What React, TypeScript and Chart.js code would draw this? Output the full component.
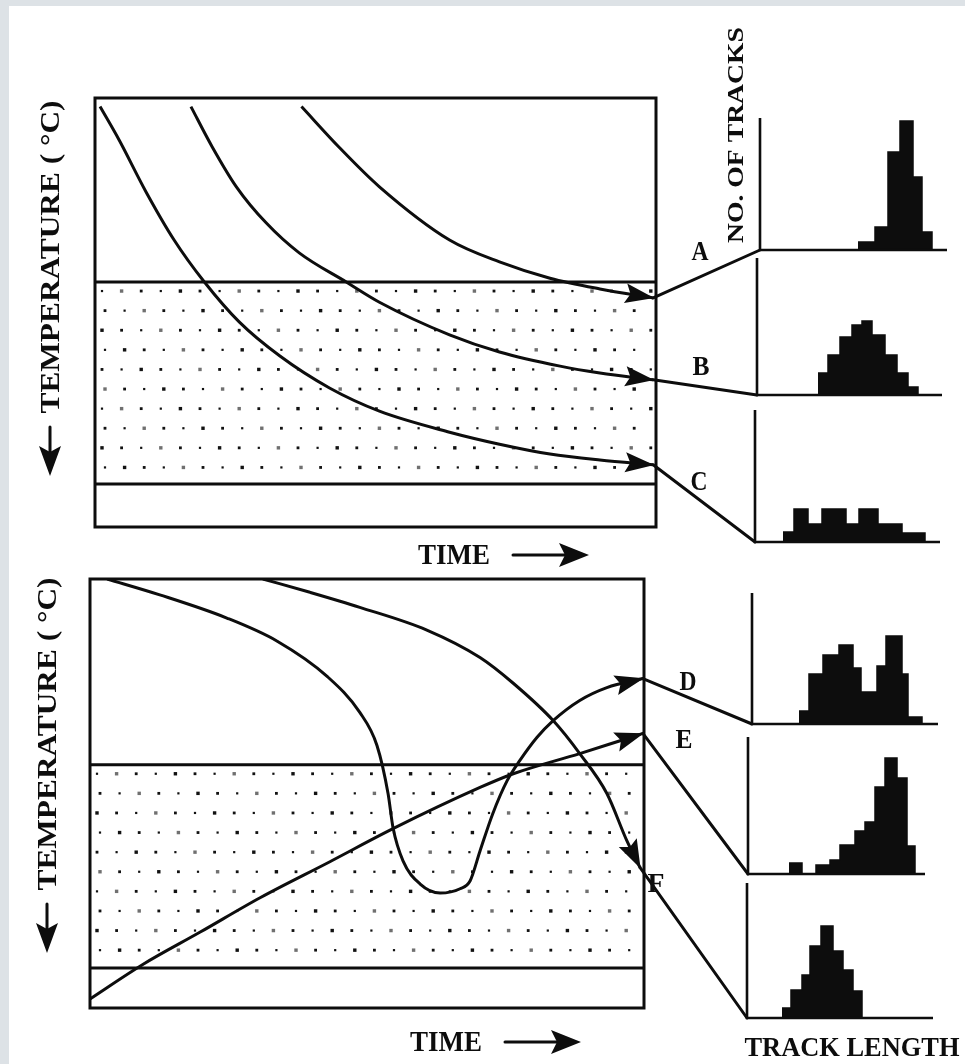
import React, { useEffect, useRef } from "react";
import { Chart, registerables } from "chart.js";

Chart.register(...registerables);

// ---------------- DATA ----------------
// Upper diagram: time (0-100, arbitrary) vs temperature (0 = top, 100 = bottom, arbitrary)
const timeA = [36.8, 43.6, 50.7, 63.2, 72.1, 81.1, 90.0, 99.5];
const tempA = [2.0, 11.6, 20.7, 33.1, 38.2, 42.0, 44.5, 46.6];
const timeB = [17.1, 20.9, 25.2, 30.5, 36.4, 44.8, 50.7, 63.2, 72.1, 82.9, 90.0, 99.5];
const tempB = [2.0, 11.4, 20.7, 29.1, 36.1, 42.9, 47.6, 55.2, 59.2, 62.5, 64.1, 65.7];
const timeC = [0.9, 4.3, 9.1, 14.1, 19.5, 25.7, 32.9, 41.8, 50.7, 63.2, 72.1, 81.1, 90.0, 99.5];
const tempC = [2.0, 9.8, 21.9, 33.1, 42.9, 52.2, 60.1, 67.6, 73.0, 77.9, 80.7, 83.0, 84.4, 85.5];
const pazUpper = [42.9, 90.0];

// Lower diagram
const timeD = [3.1, 12.6, 24.7, 33.8, 42.8, 48.7, 51.8, 53.8, 54.7, 56.5, 59.6, 63.2, 66.8, 68.6, 70.4, 72.7, 75.3, 77.6, 80.7, 83.6, 88.4, 93.3, 99.8];
const tempD = [0, 3.7, 9.1, 14.5, 22.7, 31.1, 38.8, 50.0, 58.0, 65.7, 71.1, 73.2, 72.2, 70.4, 63.4, 54.7, 47.0, 42.3, 36.9, 33.0, 28.3, 25.3, 23.2];
const timeE = [0, 9.6, 19.9, 30.7, 43.3, 54.7, 70.4, 76.4, 88.4, 95.7, 99.8];
const tempE = [97.9, 89.8, 82.3, 74.3, 65.9, 58.2, 48.6, 45.4, 40.7, 37.7, 36.0];
const timeF = [31.2, 39.7, 48.7, 60.8, 70.4, 76.4, 83.6, 88.4, 93.3, 96.9, 99.3];
const tempF = [0, 3.1, 6.6, 11.9, 18.3, 24.3, 33.0, 40.7, 50.0, 61.0, 67.3];
const pazLower = [43.3, 90.7];

// Track-length histograms: bin edges (track length) and counts (arbitrary)
const histA_edges = [9.8, 11.5, 12.8, 14.0, 15.3, 16.2, 17.2];
const histA_counts = [8, 23, 98, 129, 73, 18];
const histB_edges = [6.1, 7.1, 8.3, 9.5, 10.5, 11.5, 12.8, 14.0, 15.1, 16.1];
const histB_counts = [22, 40, 58, 70, 74, 60, 40, 22, 8];
const histC_edges = [2.8, 3.9, 5.3, 6.7, 9.1, 10.4, 12.3, 14.7, 17.0];
const histC_counts = [10, 33, 18, 33, 18, 33, 18, 9];
const histD_edges = [4.7, 5.7, 7.1, 8.7, 10.1, 10.9, 12.5, 13.4, 15.0, 15.6, 17.0];
const histD_counts = [13, 50, 69, 79, 56, 32, 58, 88, 50, 7];
const histE_edges = [4.1, 5.4, 6.8, 8.2, 9.2, 10.7, 11.7, 12.7, 13.7, 14.9, 15.9, 16.7];
const histE_counts = [11, 0, 9, 14, 29, 43, 52, 87, 116, 96, 28];
const histF_edges = [3.5, 4.4, 5.5, 6.3, 7.4, 8.6, 9.6, 10.6, 11.5];
const histF_counts = [10, 28, 43, 72, 92, 67, 48, 27];

const pathLabels = ["A", "B", "C", "D", "E", "F"];

// ---------------- LAYOUT ----------------
const PAGE_W = 965;
const PAGE_H = 1064;
const INK = "#0d0d0d";
const FONT = '"Liberation Serif", "DejaVu Serif", serif';

const upperBox = { cl: 0, ct: 0, cw: 760, ch: 560, left: 95, top: 98, right: 656, bottom: 527 };
const lowerBox = { cl: 0, ct: 560, cw: 752, ch: 504, left: 90, top: 579, right: 644, bottom: 1008 };

// histogram axis origin (page px), axis height, axis length
const histBoxes = [
  { ax: 760, base: 250, h: 132, w: 187 },
  { ax: 757, base: 395, h: 137, w: 185 },
  { ax: 755, base: 542, h: 132, w: 185 },
  { ax: 752, base: 724, h: 131, w: 186 },
  { ax: 748, base: 874, h: 137, w: 177 },
  { ax: 747, base: 1018, h: 135, w: 186 },
];
const HPAD = 12;
const PX_PER_UNIT = 10;

const letterPos = [
  [700, 251], [701, 366], [699, 481], [688, 681], [684, 739], [656, 883],
];

function mainChart(canvas: HTMLCanvasElement, box: any, series: { t: number[]; T: number[] }[], paz: number[]) {
  const datasets = series.map((s) => ({
    data: s.t.map((t, i) => ({ x: t, y: s.T[i] })),
    borderColor: INK,
    borderWidth: 3,
    pointRadius: 0,
    cubicInterpolationMode: "monotone" as const,
    fill: false,
  }));
  const decor = {
    id: "decor",
    beforeDatasetsDraw(chart: any) {
      const { ctx, chartArea: a, scales } = chart;
      const y0 = scales.y.getPixelForValue(paz[0]);
      const y1 = scales.y.getPixelForValue(paz[1]);
      ctx.save();
      ctx.fillStyle = "#111";
      const step = 19.6;
      let r = 0;
      for (let yy = y0 + 9; yy < y1 - 5; yy += step, r++) {
        let c = 0;
        for (let xx = a.left + 7 + (r % 2) * 3; xx < a.right - 4; xx += step, c++) {
          const k = (r * 7 + c * 5) % 6;
          const s = 2.2 + (k % 3) * 0.6;
          ctx.globalAlpha = k === 5 ? 0.6 : 1;
          ctx.fillRect(xx - s / 2, yy - s / 2, s, s);
        }
      }
      ctx.globalAlpha = 1;
      ctx.strokeStyle = INK;
      ctx.lineWidth = 3;
      ctx.beginPath();
      ctx.moveTo(a.left, y0);
      ctx.lineTo(a.right, y0);
      ctx.moveTo(a.left, y1);
      ctx.lineTo(a.right, y1);
      ctx.stroke();
      ctx.restore();
    },
    afterDatasetsDraw(chart: any) {
      const { ctx, chartArea: a } = chart;
      ctx.save();
      ctx.fillStyle = INK;
      chart.data.datasets.forEach((_: any, i: number) => {
        const pts = chart.getDatasetMeta(i).data;
        const last = pts[pts.length - 1];
        let px = last.cp1x;
        let py = last.cp1y;
        if (px == null || (Math.abs(px - last.x) < 0.5 && Math.abs(py - last.y) < 0.5)) {
          px = pts[pts.length - 2].x;
          py = pts[pts.length - 2].y;
        }
        const ang = Math.atan2(last.y - py, last.x - px);
        const L = 28;
        const hw = 10;
        ctx.save();
        ctx.translate(last.x, last.y);
        ctx.rotate(ang);
        ctx.beginPath();
        ctx.moveTo(1, 0);
        ctx.lineTo(-L, -hw);
        ctx.lineTo(-L + 5, 0);
        ctx.lineTo(-L, hw);
        ctx.closePath();
        ctx.fill();
        ctx.restore();
      });
      ctx.strokeStyle = INK;
      ctx.lineWidth = 3;
      ctx.strokeRect(a.left, a.top, a.right - a.left, a.bottom - a.top);
      ctx.restore();
    },
  };
  return new Chart(canvas, {
    type: "line",
    data: { datasets },
    options: {
      animation: false,
      responsive: false,
      devicePixelRatio: 1,
      layout: {
        padding: { left: box.left - box.cl, top: box.top - box.ct, right: box.cl + box.cw - box.right, bottom: box.ct + box.ch - box.bottom },
      },
      scales: {
        x: { type: "linear", min: 0, max: 100, display: false },
        y: { type: "linear", min: 0, max: 100, reverse: true, display: false },
      },
      plugins: { legend: { display: false }, tooltip: { enabled: false } },
    },
    plugins: [decor],
  } as any);
}

function histChart(canvas: HTMLCanvasElement, hb: any, edges: number[], counts: number[]) {
  const axes = {
    id: "axes",
    afterDatasetsDraw(chart: any) {
      const { ctx, chartArea: a } = chart;
      ctx.save();
      ctx.strokeStyle = INK;
      ctx.lineWidth = 2.6;
      ctx.beginPath();
      ctx.moveTo(a.left, a.top);
      ctx.lineTo(a.left, a.bottom);
      ctx.lineTo(a.right, a.bottom);
      ctx.stroke();
      ctx.restore();
    },
  };
  return new Chart(canvas, {
    type: "line",
    data: {
      datasets: [
        {
          data: edges.map((e, i) => ({ x: e, y: i < counts.length ? counts[i] : 0 })),
          stepped: true,
          fill: "origin",
          backgroundColor: INK,
          borderColor: INK,
          borderWidth: 1.5,
          pointRadius: 0,
        },
      ],
    },
    options: {
      animation: false,
      responsive: false,
      devicePixelRatio: 1,
      layout: { padding: HPAD },
      scales: {
        x: { type: "linear", min: 0, max: hb.w / PX_PER_UNIT, display: false },
        y: { type: "linear", min: 0, max: hb.h, display: false },
      },
      plugins: { legend: { display: false }, tooltip: { enabled: false } },
    },
    plugins: [axes],
  } as any);
}

function fitText(ctx: CanvasRenderingContext2D, text: string, cx: number, cy: number, len: number, size: number, rot: number) {
  ctx.save();
  ctx.translate(cx, cy);
  ctx.rotate(rot);
  ctx.font = `bold ${size}px ${FONT}`;
  const w = ctx.measureText(text).width;
  ctx.scale(len / w, 1);
  ctx.textAlign = "center";
  ctx.textBaseline = "alphabetic";
  ctx.fillText(text, 0, size * 0.33);
  ctx.restore();
}

function arrow(ctx: CanvasRenderingContext2D, x0: number, y0: number, x1: number, y1: number, headL: number, headW: number) {
  const ang = Math.atan2(y1 - y0, x1 - x0);
  ctx.save();
  ctx.lineWidth = 3;
  ctx.beginPath();
  ctx.moveTo(x0, y0);
  ctx.lineTo(x1 - Math.cos(ang) * headL * 0.6, y1 - Math.sin(ang) * headL * 0.6);
  ctx.stroke();
  ctx.translate(x1, y1);
  ctx.rotate(ang);
  ctx.beginPath();
  ctx.moveTo(0, 0);
  ctx.lineTo(-headL, -headW);
  ctx.lineTo(-headL * 0.8, 0);
  ctx.lineTo(-headL, headW);
  ctx.closePath();
  ctx.fill();
  ctx.restore();
}

export default function App() {
  const upperRef = useRef<HTMLCanvasElement>(null);
  const lowerRef = useRef<HTMLCanvasElement>(null);
  const overlayRef = useRef<HTMLCanvasElement>(null);
  const histRefs = useRef<(HTMLCanvasElement | null)[]>([]);

  useEffect(() => {
    const charts: Chart[] = [];
    const upper = mainChart(upperRef.current!, upperBox, [
      { t: timeA, T: tempA },
      { t: timeB, T: tempB },
      { t: timeC, T: tempC },
    ], pazUpper);
    const lower = mainChart(lowerRef.current!, lowerBox, [
      { t: timeD, T: tempD },
      { t: timeE, T: tempE },
      { t: timeF, T: tempF },
    ], pazLower);
    charts.push(upper, lower);
    const histData = [
      [histA_edges, histA_counts],
      [histB_edges, histB_counts],
      [histC_edges, histC_counts],
      [histD_edges, histD_counts],
      [histE_edges, histE_counts],
      [histF_edges, histF_counts],
    ];
    const hists = histBoxes.map((hb, i) => histChart(histRefs.current[i]!, hb, histData[i][0], histData[i][1]));
    charts.push(...hists);

    // overlay: connectors and lettering
    const oc = overlayRef.current!;
    const ctx = oc.getContext("2d")!;
    ctx.clearRect(0, 0, PAGE_W, PAGE_H);
    ctx.strokeStyle = INK;
    ctx.fillStyle = INK;
    ctx.lineWidth = 3;
    ctx.lineCap = "round";
    const mains = [
      { chart: upper, box: upperBox },
      { chart: lower, box: lowerBox },
    ];
    mains.forEach((m, mi) => {
      for (let i = 0; i < 3; i++) {
        const pts = m.chart.getDatasetMeta(i).data as any[];
        const last = pts[pts.length - 1];
        const sx = m.box.cl + last.x;
        const sy = m.box.ct + last.y;
        const hi = mi * 3 + i;
        const hb = histBoxes[hi];
        const h = hists[hi];
        const ex = hb.ax - HPAD + (h.scales.x as any).getPixelForValue(0);
        const ey = hb.base - hb.h - HPAD + (h.scales.y as any).getPixelForValue(0);
        ctx.beginPath();
        ctx.moveTo(sx, sy);
        ctx.lineTo(ex, ey);
        ctx.stroke();
      }
    });

    pathLabels.forEach((lab, i) => {
      fitText(ctx, lab, letterPos[i][0], letterPos[i][1], 17, 27, 0);
    });

    // temperature axis titles with downward arrows
    fitText(ctx, "TEMPERATURE ( \u00B0C)", 50, 257, 313, 28, -Math.PI / 2);
    arrow(ctx, 50, 427, 50, 476, 30, 11);
    fitText(ctx, "TEMPERATURE ( \u00B0C)", 47, 734, 313, 28, -Math.PI / 2);
    arrow(ctx, 47, 904, 47, 953, 30, 11);

    // time axis titles with arrows
    fitText(ctx, "TIME", 454, 554, 72, 30, 0);
    arrow(ctx, 513, 555, 589, 555, 30, 12);
    fitText(ctx, "TIME", 446, 1041, 72, 30, 0);
    arrow(ctx, 505, 1042, 581, 1042, 30, 12);

    fitText(ctx, "NO. OF TRACKS", 735, 135, 216, 24, -Math.PI / 2);
    fitText(ctx, "TRACK LENGTH", 852, 1047, 215, 28, 0);

    return () => {
      charts.forEach((c) => c.destroy());
    };
  }, []);

  return (
    <div style={{ position: "absolute", left: 0, top: 0, width: PAGE_W, height: PAGE_H, background: "#dde2e6", overflow: "hidden" }}>
      <div style={{ position: "absolute", left: 9, top: 6, right: 0, bottom: 0, background: "#ffffff" }} />
      <canvas ref={upperRef} width={upperBox.cw} height={upperBox.ch} style={{ position: "absolute", left: upperBox.cl, top: upperBox.ct }} />
      <canvas ref={lowerRef} width={lowerBox.cw} height={lowerBox.ch} style={{ position: "absolute", left: lowerBox.cl, top: lowerBox.ct }} />
      {histBoxes.map((hb, i) => (
        <canvas
          key={i}
          ref={(el) => {
            histRefs.current[i] = el;
          }}
          width={hb.w + HPAD * 2}
          height={hb.h + HPAD * 2}
          style={{ position: "absolute", left: hb.ax - HPAD, top: hb.base - hb.h - HPAD }}
        />
      ))}
      <canvas ref={overlayRef} width={PAGE_W} height={PAGE_H} style={{ position: "absolute", left: 0, top: 0, pointerEvents: "none" }} />
    </div>
  );
}
